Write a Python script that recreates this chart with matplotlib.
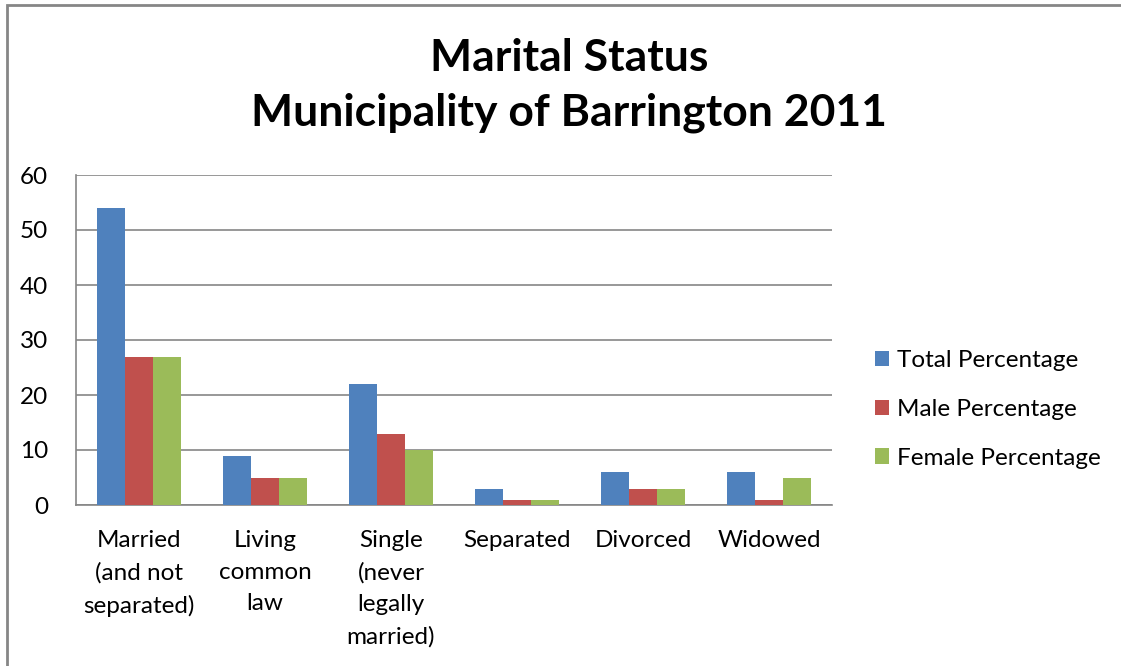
import matplotlib
matplotlib.use("Agg")
import matplotlib.pyplot as plt
from matplotlib.patches import Rectangle
import numpy as np

categories = ["Married\n(and not\nseparated)", "Living\ncommon\nlaw", "Single\n(never\nlegally\nmarried)",
              "Separated", "Divorced", "Widowed"]
total_pct = [54, 9, 22, 3, 6, 6]
male_pct = [27, 5, 13, 1, 3, 1]
female_pct = [27, 5, 10, 1, 3, 5]
series_names = ["Total Percentage", "Male Percentage", "Female Percentage"]
colors = ["#4F81BD", "#C0504D", "#9BBB59"]
yticks = [0, 10, 20, 30, 40, 50, 60]

plt.rcParams['font.family'] = ['Lato', 'DejaVu Sans']

W, H = 1121, 666
fig = plt.figure(figsize=(W / 100, H / 100), dpi=100)

# outer border
fig.patches.append(Rectangle((7 / W, 0 - 0.1), 1.2, 1 - 5 / H + 0.1, transform=fig.transFigure,
                             fill=False, edgecolor="#868686", linewidth=2, zorder=0))

ax = fig.add_axes([76 / W, 1 - 505 / H, (832 - 76) / W, (505 - 175) / H])
x = np.arange(len(categories))
bw = 126 / 4.5 / 126
for i, (vals, name, c) in enumerate(zip([total_pct, male_pct, female_pct], series_names, colors)):
    ax.bar(x + (i - 1) * bw, vals, width=bw, color=c, label=name, zorder=3)

ax.set_xlim(-0.5, len(categories) - 0.5)
ax.set_ylim(0, 60)
ax.set_yticks(yticks)
ax.set_xticks(x)
ax.set_xticklabels(categories, fontsize=17.5, linespacing=1.62, va="top")
ax.tick_params(axis="both", length=0, labelsize=17.5)
ax.tick_params(axis="x", pad=18)
ax.tick_params(axis="y", pad=20)
ax.yaxis.grid(True, color="#868686", linewidth=1.2, zorder=0)
for s in ["top", "right"]:
    ax.spines[s].set_visible(False)
for s in ["left", "bottom"]:
    ax.spines[s].set_color("#868686")
    ax.spines[s].set_linewidth(1.2)

fig.text(569 / W, 1 - 58 / H, "Marital Status", ha="center", va="center", fontsize=32, fontweight="bold")
fig.text(569 / W, 1 - 113 / H, "Municipality of Barrington 2011", ha="center", va="center",
         fontsize=32, fontweight="bold")

leg = fig.legend(loc="upper left", bbox_to_anchor=(853 / W, 1 - 328 / H), frameon=False, fontsize=17.5,
                 handlelength=0.6, handleheight=0.6, handletextpad=0.3, labelspacing=1.15)

fig.savefig("out.png", dpi=100)
